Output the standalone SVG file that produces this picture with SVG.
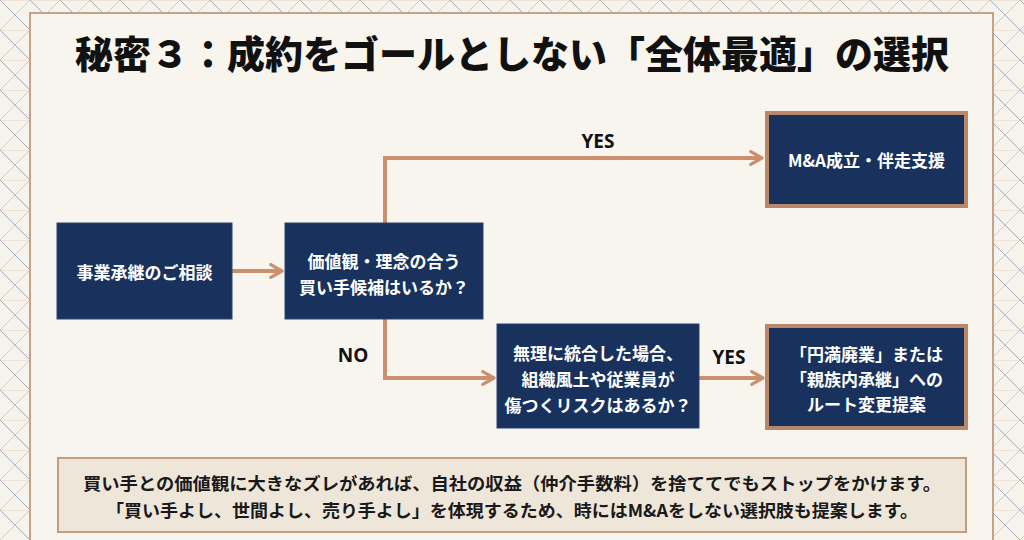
<svg xmlns="http://www.w3.org/2000/svg" width="1024" height="540" viewBox="0 0 1024 540">
  <style>
    .title { font-family: "Liberation Serif", "Noto Sans CJK JP", serif; font-weight: 900; font-size: 38px; fill: #111; }
    .nt { font-family: "Noto Sans CJK JP", "Noto Sans", sans-serif; font-weight: 700; font-size: 17px; fill: #ffffff; }
    .lbl { font-family: "Open Sans", "Noto Sans", sans-serif; font-weight: 700; font-size: 19px; fill: #111; }
    .bt { font-family: "Noto Sans CJK JP", "Noto Sans", sans-serif; font-weight: 700; font-size: 17.5px; fill: #1a1a1a; }
    .navy { fill: #18325d; stroke: #2b4470; stroke-width: 1; }
    .navyc { fill: #18325d; stroke: #bb876a; stroke-width: 4; }
    .conn { fill: none; stroke: #cc8f6d; stroke-width: 4; }
  </style>
  <defs>
    <marker id="ah" viewBox="0 0 10 10" refX="8" refY="5" markerWidth="4" markerHeight="4" orient="auto" markerUnits="strokeWidth">
      <path d="M1,1 L8,5 L1,9" fill="none" stroke="#cc8f6d" stroke-width="2" stroke-linecap="round" stroke-linejoin="round"/>
    </marker>
    <pattern id="lat" x="0" y="0" width="30" height="30" patternUnits="userSpaceOnUse">
      <rect width="30" height="30" fill="#f6f2ec"/>
      <path d="M0,0 L30,30" stroke="#8e9bb0" stroke-width="0.8"/>
      <path d="M30,0 L0,30" stroke="#dcbfa8" stroke-width="0.8"/>
      <path d="M0,0 L30,0" stroke="#e2cbb8" stroke-width="0.8"/>
    </pattern>
  </defs>

  <rect x="0" y="0" width="1024" height="540" fill="url(#lat)"/>
  <rect x="30" y="13" width="963" height="540" fill="#f8f5ef" stroke="#c8a287" stroke-width="2"/>

  <text class="title" x="512" y="55" text-anchor="middle" dominant-baseline="central">秘密３：成約をゴールとしない「全体最適」の選択</text>

  <g id="connectors">
    <path class="conn" d="M232,271 L282,271" marker-end="url(#ah)"/>
    <path class="conn" d="M385,223 L385,158 L762,158" marker-end="url(#ah)"/>
    <path class="conn" d="M385,319 L385,378 L494,378" marker-end="url(#ah)"/>
    <path class="conn" d="M699,378 L763,378" marker-end="url(#ah)"/>
    <text class="lbl" x="598" y="141" text-anchor="middle" dominant-baseline="central">YES</text>
    <text class="lbl" x="353" y="355" text-anchor="middle" dominant-baseline="central">NO</text>
    <text class="lbl" x="729" y="357" text-anchor="middle" dominant-baseline="central">YES</text>
  </g>

  <g id="n1">
    <rect class="navy" x="57" y="223" width="175" height="96"/>
    <text class="nt" x="144.5" y="271" text-anchor="middle" dominant-baseline="central">事業承継のご相談</text>
  </g>
  <g id="n2">
    <rect class="navy" x="285" y="223" width="198" height="96"/>
    <text class="nt" x="384" y="260" text-anchor="middle" dominant-baseline="central">価値観・理念の合う</text>
    <text class="nt" x="384" y="286" text-anchor="middle" dominant-baseline="central">買い手候補はいるか？</text>
  </g>
  <g id="n3">
    <rect class="navyc" x="767" y="113" width="199" height="93"/>
    <text class="nt" x="866.5" y="159" text-anchor="middle" dominant-baseline="central">M&amp;A成立・伴走支援</text>
  </g>
  <g id="n4">
    <rect class="navy" x="497" y="324" width="202" height="104"/>
    <text class="nt" x="598" y="352" text-anchor="middle" dominant-baseline="central">無理に統合した場合、</text>
    <text class="nt" x="598" y="378" text-anchor="middle" dominant-baseline="central">組織風土や従業員が</text>
    <text class="nt" x="598" y="404" text-anchor="middle" dominant-baseline="central">傷つくリスクはあるか？</text>
  </g>
  <g id="n5">
    <rect class="navyc" x="767" y="326" width="199" height="102"/>
    <text class="nt" x="866.5" y="353" text-anchor="middle" dominant-baseline="central">「円満廃業」または</text>
    <text class="nt" x="866.5" y="378" text-anchor="middle" dominant-baseline="central">「親族内承継」への</text>
    <text class="nt" x="866.5" y="403" text-anchor="middle" dominant-baseline="central">ルート変更提案</text>
  </g>

  <g id="note">
    <rect x="58" y="458" width="908" height="74" fill="#efe6da" stroke="#c49d80" stroke-width="2"/>
    <text class="bt" x="512" y="482" text-anchor="middle" dominant-baseline="central" textLength="858" lengthAdjust="spacingAndGlyphs">買い手との価値観に大きなズレがあれば、自社の収益（仲介手数料）を捨ててでもストップをかけます。</text>
    <text class="bt" x="512" y="509" text-anchor="middle" dominant-baseline="central" textLength="812" lengthAdjust="spacingAndGlyphs">「買い手よし、世間よし、売り手よし」を体現するため、時にはM&amp;Aをしない選択肢も提案します。</text>
  </g>
</svg>
